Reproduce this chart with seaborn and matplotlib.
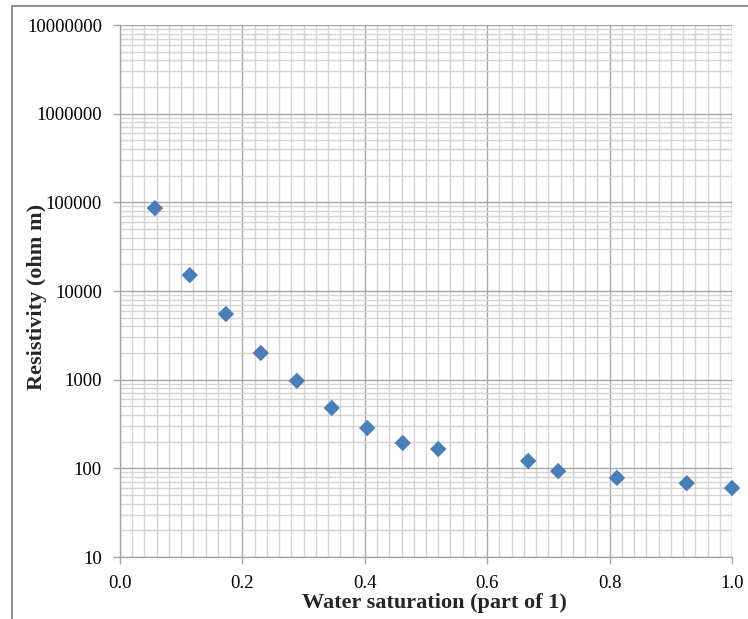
import matplotlib
matplotlib.use("Agg")
import matplotlib.pyplot as plt
from matplotlib.ticker import MultipleLocator, LogLocator, FixedLocator
from matplotlib.patches import Rectangle
import numpy as np
import pandas as pd
import seaborn as sns

# Water saturation vs. resistivity measurements
saturation = [0.057, 0.114, 0.173, 0.230, 0.289, 0.346, 0.404, 0.462, 0.520,
              0.667, 0.716, 0.812, 0.926, 1.000]
resistivity = [86000, 15100, 5500, 2000, 970, 480, 285, 193, 165,
               121, 93, 78, 68, 60]

x_ticks = [0.0, 0.2, 0.4, 0.6, 0.8, 1.0]
x_tick_labels = ["0.0", "0.2", "0.4", "0.6", "0.8", "1.0"]
y_ticks = [10, 100, 1000, 10000, 100000, 1000000, 10000000]
y_tick_labels = ["10", "100", "1000", "10000", "100000", "1000000", "10000000"]

df = pd.DataFrame({"Sw": saturation, "R": resistivity})

sns.set_theme(style="white")
plt.rcParams["font.family"] = ["Liberation Serif", "DejaVu Serif"]

fig = plt.figure(figsize=(7.48, 6.19), dpi=100)
ax = fig.add_axes([120 / 748, 1 - 557 / 619, 612 / 748, 532 / 619])

sns.scatterplot(data=df, x="Sw", y="R", ax=ax, marker="D", s=70,
                color="#4a7ebb", edgecolor="none", zorder=5, clip_on=False)

ax.set_yscale("log")
ax.set_xlim(0, 1)
ax.set_ylim(10, 1e7)

ax.xaxis.set_major_locator(FixedLocator(x_ticks))
ax.set_xticklabels(x_tick_labels)
ax.xaxis.set_minor_locator(MultipleLocator(0.02))
ax.yaxis.set_major_locator(FixedLocator(y_ticks))
ax.set_yticklabels(y_tick_labels)
ax.yaxis.set_minor_locator(LogLocator(base=10, subs=np.arange(2, 10)))

ax.grid(which="minor", color="#d4d4d4", linewidth=1.0)
ax.grid(which="major", color="#a6a6a6", linewidth=1.0)
ax.set_axisbelow(True)

for side in ["top", "right"]:
    ax.spines[side].set_visible(False)
for side in ["left", "bottom"]:
    ax.spines[side].set_color("#a6a6a6")
    ax.spines[side].set_linewidth(1.0)

ax.tick_params(axis="both", which="major", direction="out", length=5,
               width=1, color="#a6a6a6", labelsize=13.5, labelcolor="black",
               bottom=True, left=True)
ax.tick_params(axis="y", which="major", pad=8)
ax.tick_params(axis="x", which="major", pad=8)
ax.tick_params(axis="both", which="minor", length=0)

ax.set_xlabel("Water saturation (part of 1)", fontsize=16, fontweight="bold")
ax.set_ylabel("Resistivity (ohm m)", fontsize=16, fontweight="bold")
ax.xaxis.set_label_coords(0.513, -0.087)
ax.yaxis.set_label_coords(-0.136, 0.489)
ax.xaxis.label.set_va("center")
ax.yaxis.label.set_va("center")

# Chart-area border
fig.add_artist(Rectangle((12 / 748, -0.1), 1.0, 1 - 6 / 619 + 0.1,
                         transform=fig.transFigure, fill=False,
                         edgecolor="#7f7f7f", linewidth=1.2))

fig.savefig("out.png", dpi=100)
